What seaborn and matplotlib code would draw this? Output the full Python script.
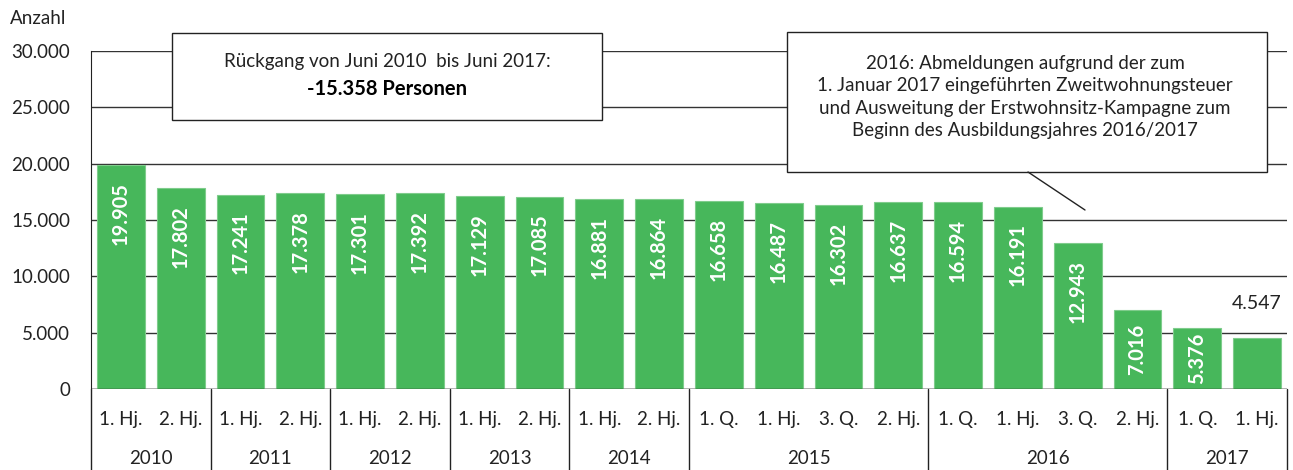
import numpy as np
import pandas as pd
import seaborn as sns
import matplotlib.pyplot as plt
from matplotlib.patches import Rectangle
from matplotlib.lines import Line2D
from matplotlib.ticker import FuncFormatter

# data
years = ['2010', '2011', '2012', '2013', '2014', '2015', '2016', '2017']
periods = [
    ['1. Hj.', '2. Hj.'],
    ['1. Hj.', '2. Hj.'],
    ['1. Hj.', '2. Hj.'],
    ['1. Hj.', '2. Hj.'],
    ['1. Hj.', '2. Hj.'],
    ['1. Q.', '1. Hj.', '3. Q.', '2. Hj.'],
    ['1. Q.', '1. Hj.', '3. Q.', '2. Hj.'],
    ['1. Q.', '1. Hj.'],
]
anzahl = [19905, 17802, 17241, 17378, 17301, 17392, 17129, 17085, 16881, 16864,
          16658, 16487, 16302, 16637, 16594, 16191, 12943, 7016, 5376, 4547]

rows = []
for y, ps in zip(years, periods):
    for p in ps:
        rows.append((y, p))
df = pd.DataFrame(rows, columns=['jahr', 'periode'])
df['key'] = df['jahr'] + ' ' + df['periode']
df['anzahl'] = anzahl

sns.set_style('white')
plt.rcParams['font.family'] = ['Lato', 'DejaVu Sans']
txt = '#222222'
fs = 13.5

W, H = 1293, 470
fig = plt.figure(figsize=(W / 100, H / 100), dpi=100)


def fx(x):
    return x / W


def fy(y):
    return 1 - y / H


ax = fig.add_axes([fx(91), fy(389), fx(1287) - fx(91), fy(51) - fy(389)])
green = '#47b75b'
sns.barplot(data=df, x='key', y='anzahl', color=green, width=0.8,
            saturation=1, ax=ax, zorder=3, edgecolor='#7fcc8c', linewidth=0.8)

ax.set_ylim(0, 30000)
ax.set_xlim(-0.5, len(df) - 0.5)
ax.set_yticks(np.arange(0, 30001, 5000))
ax.yaxis.set_major_formatter(FuncFormatter(lambda v, p: f'{int(v):,}'.replace(',', '.')))
ax.tick_params(axis='y', labelsize=fs, length=0, pad=15, labelcolor=txt)
ax.grid(axis='y', color='#333333', linewidth=1.0, zorder=0)
ax.set_axisbelow(True)
for s in ['top', 'right', 'bottom']:
    ax.spines[s].set_visible(False)
ax.spines['left'].set_color(txt)
ax.set_xlabel('')
ax.set_ylabel('')

ax.set_xticks(range(len(df)))
ax.set_xticklabels(df['periode'], fontsize=fs, color=txt)
ax.tick_params(axis='x', length=0, pad=16)

# value labels
for i, v in enumerate(df['anzahl']):
    lab = f'{v:,}'.replace(',', '.')
    if i == len(df) - 1:
        ax.text(i, v + 2300, lab, ha='center', va='bottom', fontsize=fs + 0.5, color=txt)
    elif v > 10000:
        ax.text(i, v - 1500, lab, ha='center', va='top', rotation=90,
                fontsize=14.5, fontweight='bold', color='white', zorder=4)
    else:
        ax.text(i, v / 2, lab, ha='center', va='center', rotation=90,
                fontsize=14.5, fontweight='bold', color='white', zorder=4)

# year row and table lines
trans = ax.get_xaxis_transform()
pos = -0.5
bounds = [pos]
for y, ps in zip(years, periods):
    n = len(ps)
    ax.text(pos + n / 2, -0.205, y, transform=trans, ha='center', va='center',
            fontsize=fs, color=txt)
    pos += n
    bounds.append(pos)
for b in bounds:
    ax.add_line(Line2D([b, b], [0, -0.25], transform=trans, color=txt,
                       linewidth=1.0, clip_on=False))
ax.axhline(0, color=txt, linewidth=1.0, zorder=5)

fig.text(fx(10), fy(18), 'Anzahl', fontsize=fs, va='center', ha='left', color=txt)

# annotation boxes
fig.add_artist(Rectangle((fx(172), fy(120)), fx(602) - fx(172), fy(33) - fy(120),
                         transform=fig.transFigure, facecolor='white',
                         edgecolor=txt, linewidth=1.0, zorder=10))
fig.text(fx(387), fy(62), 'Rückgang von Juni 2010  bis Juni 2017:', ha='center',
         va='center', fontsize=fs, zorder=11, color=txt)
fig.text(fx(387), fy(89), '-15.358 Personen', ha='center', va='center',
         fontsize=14.5, fontweight='bold', zorder=11, color='black')

fig.add_artist(Rectangle((fx(787), fy(172)), fx(1267) - fx(787), fy(32) - fy(172),
                         transform=fig.transFigure, facecolor='white',
                         edgecolor=txt, linewidth=1.0, zorder=10))
fig.text(fx(1025), fy(97),
         '2016: Abmeldungen aufgrund der zum\n1. Januar 2017 eingeführten Zweitwohnungsteuer\n'
         'und Ausweitung der Erstwohnsitz-Kampagne zum\nBeginn des Ausbildungsjahres 2016/2017',
         ha='center', va='center', fontsize=fs, linespacing=1.4, zorder=11, color=txt)
fig.add_artist(Line2D([fx(1028), fx(1085)], [fy(172), fy(210)],
                      transform=fig.transFigure, color=txt, linewidth=1.0, zorder=10))

fig.savefig('out.png', dpi=100)
